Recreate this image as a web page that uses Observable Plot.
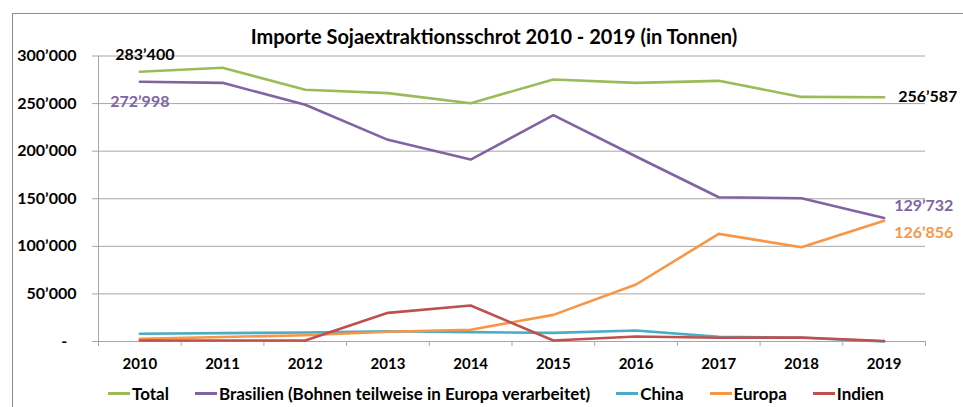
<!DOCTYPE html>
<html><head><meta charset="utf-8">
<script src="https://cdn.jsdelivr.net/npm/d3@7"></script>
<script src="https://cdn.jsdelivr.net/npm/@observablehq/plot@0.6"></script>
<style>
body{margin:0;background:#fff;font-family:Lato,sans-serif;}
#wrap{position:relative;width:963px;height:407px;overflow:hidden;}
#box{position:absolute;left:12px;top:13px;width:960px;height:420px;border:1px solid #8c8c8c;box-sizing:border-box;}
#title{position:absolute;left:0;width:988px;top:24px;text-align:center;font-weight:bold;font-size:20px;color:#000;}
#chart{position:absolute;left:0;top:0;}
#legend{position:absolute;top:383px;left:108px;display:flex;gap:26px;font-weight:bold;font-size:17px;color:#000;white-space:nowrap;}
#legend .item{display:flex;align-items:center;gap:2px;}
#legend .sw{display:inline-block;width:22px;height:3px;}
</style></head>
<body>
<div id="wrap">
  <div id="box"></div>
  <div id="chart"></div>
  <div id="title">Importe Sojaextraktionsschrot 2010 - 2019 (in Tonnen)</div>
  <div id="legend"></div>
</div>
<script>
const years = [2010, 2011, 2012, 2013, 2014, 2015, 2016, 2017, 2018, 2019];
const seriesNames = ["Total", "Brasilien (Bohnen teilweise in Europa verarbeitet)", "China", "Europa", "Indien"];
const seriesColors = ["#9BBB59", "#8064A2", "#4BACC6", "#F79646", "#C0504D"];
const total     = [283400, 287600, 264500, 261000, 250400, 275300, 271800, 273900, 257000, 256587];
const brasilien = [272998, 271800, 248700, 211900, 191200, 237800, 194400, 151600, 150600, 129732];
const china     = [8100, 8800, 9500, 10800, 9800, 9100, 11600, 4900, 3900, 0];
const europa    = [2800, 4700, 6600, 10200, 12300, 28000, 59900, 113100, 99100, 126856];
const indien    = [1000, 1000, 1000, 30100, 37800, 1000, 5300, 3900, 4200, 500];
const yTicks = [0, 50000, 100000, 150000, 200000, 250000, 300000];
const labels = [
  {year: 2010, value: 283400, color: "#000000", anchor: "middle", dx: 5, dy: -17},
  {year: 2010, value: 272998, color: "#8064A2", anchor: "middle", dx: 0, dy: 20},
  {year: 2019, value: 256587, color: "#000000", anchor: "start", dx: 14, dy: 0},
  {year: 2019, value: 129732, color: "#8064A2", anchor: "start", dx: 10, dy: -12},
  {year: 2019, value: 126856, color: "#F79646", anchor: "start", dx: 10, dy: 12}
];

const allSeries = [total, brasilien, china, europa, indien];
const data = allSeries.flatMap((vals, s) => years.map((yr, i) => ({series: seriesNames[s], year: yr, value: vals[i]})));
const bounds = [...years.map(y => y - 0.5), years[years.length - 1] + 0.5];
const fmtNum = v => d3.format(",")(v).replace(/,/g, "\u2019");
const fmtTick = v => v === 0 ? "-\u2007" : fmtNum(v);

const chart = Plot.plot({
  width: 963, height: 407,
  marginLeft: 98, marginRight: 38, marginTop: 55.5, marginBottom: 66,
  style: {fontFamily: "Lato, sans-serif", background: "transparent", overflow: "visible"},
  x: {type: "linear", domain: [bounds[0], bounds[bounds.length - 1]]},
  y: {domain: [0, 300000]},
  color: {domain: seriesNames, range: seriesColors},
  marks: [
    Plot.gridY(yTicks.filter(v => v > 0), {stroke: "#a6a6a6", strokeOpacity: 1, strokeWidth: 1}),
    Plot.axisY(yTicks, {tickSize: 6, tickPadding: 16, tickFormat: fmtTick, stroke: "#a6a6a6", fill: "#000", fontSize: 16, fontWeight: "bold", label: null}),
    Plot.ruleX([bounds[0]], {y1: 0, y2: 300000, stroke: "#a6a6a6"}),
    Plot.axisX(bounds, {tickSize: 5, tickFormat: () => "", stroke: "#a6a6a6", label: null}),
    Plot.axisX(years, {tickSize: 0, tickPadding: 17, tickFormat: d => String(d), fill: "#000", fontSize: 15, fontWeight: "bold", label: null}),
    Plot.ruleY([0], {stroke: "#a6a6a6"}),
    Plot.line(data, {x: "year", y: "value", z: "series", stroke: "series", strokeWidth: 2.6, curve: "linear"}),
    ...labels.map(l => Plot.text([l], {x: "year", y: "value", text: d => fmtNum(d.value), fill: l.color, textAnchor: l.anchor, dx: l.dx, dy: l.dy, fontSize: 16, fontWeight: "bold"}))
  ]
});
document.getElementById("chart").appendChild(chart);

const legend = document.getElementById("legend");
seriesNames.forEach((name, i) => {
  const item = document.createElement("div");
  item.className = "item";
  const sw = document.createElement("span");
  sw.className = "sw";
  sw.style.background = seriesColors[i];
  const tx = document.createElement("span");
  tx.textContent = name;
  item.appendChild(sw); item.appendChild(tx);
  legend.appendChild(item);
});
</script>
</body></html>
